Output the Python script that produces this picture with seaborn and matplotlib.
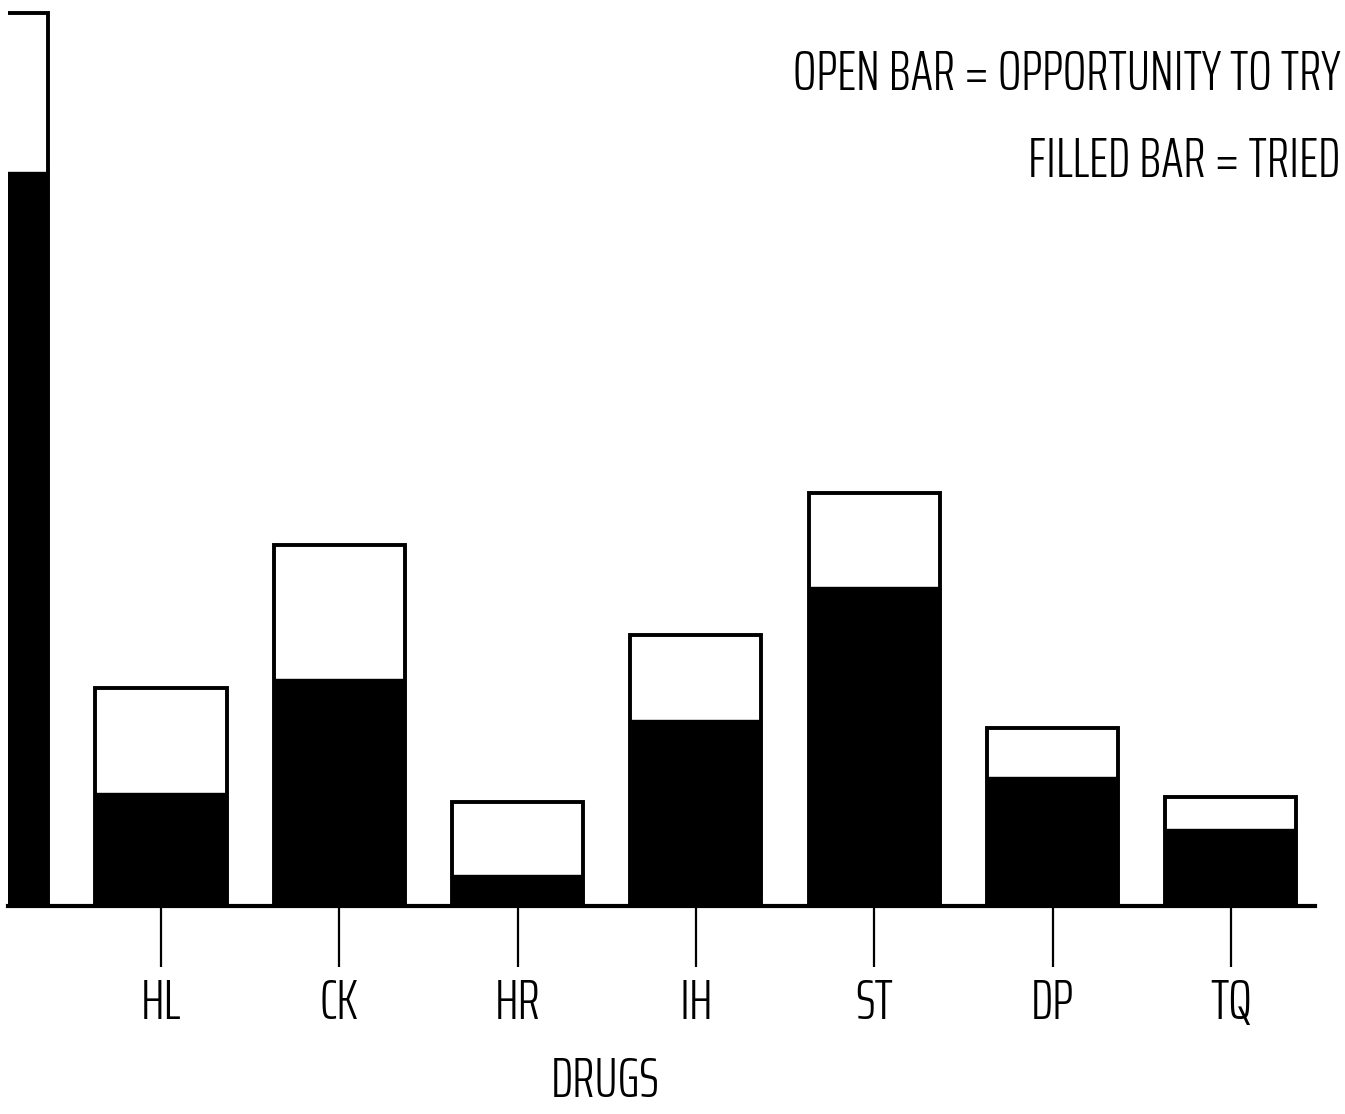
import matplotlib
matplotlib.use("Agg")
import matplotlib.pyplot as plt
from matplotlib.textpath import TextPath
from matplotlib.font_manager import FontProperties
import seaborn as sns
import pandas as pd

# ---- data (percent of respondents) ----
drugs = ["MJ", "HL", "CK", "HR", "IH", "ST", "DP", "TQ"]
opportunity = [100.0, 24.4, 40.4, 11.6, 30.3, 46.2, 19.9, 12.2]
tried = [82.2, 12.7, 25.4, 3.5, 20.8, 35.7, 14.4, 8.6]
legend_lines = ["OPEN BAR = OPPORTUNITY TO TRY", "FILLED BAR = TRIED"]
x_title = "DRUGS"

sns.set_theme(style="white")
FONT = ["Saira ExtraCondensed", "Roboto Condensed", "DejaVu Sans"]
WEIGHT = 300
plt.rcParams["font.family"] = FONT
plt.rcParams["font.weight"] = WEIGHT

W, H = 1345, 1114
DPI = 100
fig = plt.figure(figsize=(W / DPI, H / DPI), dpi=DPI)
fig.patch.set_facecolor("white")

# axes frame in pixels (left, right, top, bottom=baseline)
L, R, T, B = 8, 1315, 0, 906
ax = fig.add_axes([L / W, 1 - B / H, (R - L) / W, (B - T) / H])
ax.set_facecolor("white")

df = pd.DataFrame({"drug": drugs, "opportunity": opportunity, "tried": tried})
sns.barplot(data=df, x="drug", y="opportunity", order=drugs, color="white",
            edgecolor="black", linewidth=2.8, width=0.735, saturation=1,
            errorbar=None, ax=ax)
sns.barplot(data=df, x="drug", y="tried", order=drugs, color="black",
            edgecolor="black", linewidth=1.0, width=0.735, saturation=1,
            errorbar=None, ax=ax)

# categorical position <-> pixel mapping
c1, step = 161.0, 178.3
def pos(px):
    return 1 + (px - c1) / step
ax.set_xlim(pos(L), pos(R))
px_per_unit = 893 / 100.0
ax.set_ylim(0, (B - T) / px_per_unit)

for s in ["left", "top", "right"]:
    ax.spines[s].set_visible(False)
ax.spines["bottom"].set_color("black")
ax.spines["bottom"].set_linewidth(3.0)
ax.set_yticks([])
ax.set_ylabel("")

# font size: fit the first legend line to its width in the picture
fig.canvas.draw()
rend = fig.canvas.get_renderer()
probe = fig.text(0, 0, legend_lines[0], fontsize=40, fontweight=WEIGHT)
wpx = probe.get_window_extent(rend).width
probe.remove()
fs = 40 * 547 / wpx
cap_px = TextPath((0, 0), "H", size=fs,
                  prop=FontProperties(family=FONT, weight=WEIGHT)).get_extents().height * DPI / 72

# legend text (right aligned)
for txt, cy in zip(legend_lines, [71, 158.5]):
    fig.text(1340 / W, 1 - (cy + cap_px / 2) / H, txt, ha="right", va="baseline",
             fontsize=fs, fontweight=WEIGHT, color="black")

# ticks and tick labels
tick_len_px = 61
lab_cy = 1000
base_px = lab_cy + cap_px / 2
pad_px = base_px - B - tick_len_px
ax.tick_params(axis="x", bottom=True, direction="out", length=tick_len_px * 72 / DPI,
               width=1.6, color="black", pad=pad_px * 72 / DPI, labelsize=fs,
               labelcolor="black")
for lbl in ax.get_xticklabels():
    lbl.set_verticalalignment("baseline")
    lbl.set_fontweight(WEIGHT)

# axis title
ax.set_xlabel(x_title, fontsize=fs, fontweight=WEIGHT, color="black")
ax.xaxis.label.set_verticalalignment("baseline")
ax.xaxis.set_label_coords((605 - L) / (R - L), (B - (1078 + cap_px / 2)) / (B - T))

fig.savefig("out.png", dpi=DPI, facecolor="white")
